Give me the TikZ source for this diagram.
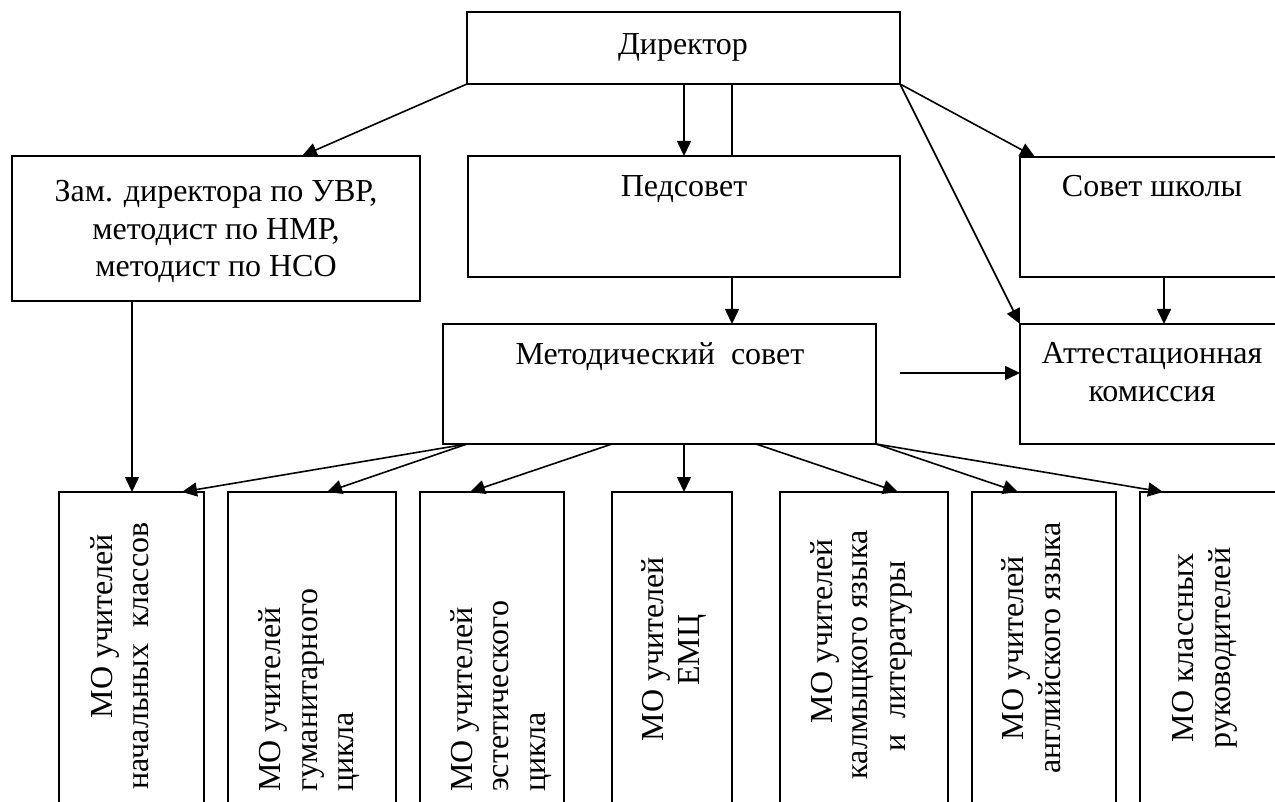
\documentclass[tikz,border=0pt]{standalone}
\usepackage{fontspec}
\setmainfont{Liberation Serif}
\usetikzlibrary{arrows.meta}
\begin{document}
\begin{tikzpicture}[x=1pt,y=-1pt,
  box/.style={draw, line width=1.6pt, inner sep=0pt, outer sep=0pt, anchor=north west},
  lbl/.style={inner sep=0pt, anchor=base, font=\fontsize{32}{37}\selectfont},
  rl/.style={lbl, rotate=90},
  rlw/.style={lbl, rotate=90, anchor=base west},
  conn/.style={line width=1.6pt},
  arr/.style={conn, -{Triangle[length=15pt,width=14pt]}}]
\useasboundingbox (0,0) rectangle (1275,802);
\clip (0,0) rectangle (1275,802);
% boxes
\node[box, minimum width=433pt, minimum height=72pt] (dir) at (467,12) {};
\node[box, minimum width=432pt, minimum height=121pt] (ped) at (468,156) {};
\node[box, minimum width=408pt, minimum height=145pt] (zam) at (12,156) {};
\node[box, minimum width=270pt, minimum height=120pt] (sov) at (1020,157) {};
\node[box, minimum width=270pt, minimum height=120pt] (att) at (1020,324) {};
\node[box, minimum width=433pt, minimum height=120pt] (met) at (443,324) {};
\node[box, minimum width=145pt, minimum height=330pt] (mo1) at (59,492) {};
\node[box, minimum width=168pt, minimum height=330pt] (mo2) at (228,492) {};
\node[box, minimum width=144pt, minimum height=330pt] (mo3) at (420,492) {};
\node[box, minimum width=120pt, minimum height=330pt] (mo4) at (612,492) {};
\node[box, minimum width=168pt, minimum height=330pt] (mo5) at (780,492) {};
\node[box, minimum width=144pt, minimum height=330pt] (mo6) at (972,492) {};
\node[box, minimum width=150pt, minimum height=330pt] (mo7) at (1140,492) {};
% texts
\node[lbl] (dirT) at (683,55) {Директор};
\node[lbl] (pedT) at (684,197) {Педсовет};
\node[lbl] (zamA) at (216,202) {Зам. директора по УВР,};
\node[lbl] (zamB) at (216,240) {методист по НМР,};
\node[lbl] (zamC) at (216,277) {методист по НСО};
\node[lbl] (metT) at (660,365) {Методический\ \ совет};
\node[lbl] (sovT) at (1152,197) {Совет школы};
\node[lbl] (attA) at (1152,363) {Аттестационная};
\node[lbl] (attB) at (1152,402) {комиссия};
\node[rl] (m1a) at (112,626) {МО учителей};
\node[rl] (m1b) at (148,656) {начальных\ \ классов};
\node[rlw] (m2a) at (280,792) {МО учителей};
\node[rlw] (m2b) at (317,792) {гуманитарного};
\node[rlw] (m2c) at (353,792) {цикла};
\node[rlw] (m3a) at (472,792) {МО учителей};
\node[rlw] (m3b) at (508,792) {эстетического};
\node[rlw] (m3c) at (545,792) {цикла};
\node[rl] (m4a) at (663,649) {МО учителей};
\node[rl] (m4b) at (699,650) {ЕМЦ};
\node[rl] (m5a) at (832,631) {МО учителей};
\node[rl] (m5b) at (867,655) {калмыцкого языка};
\node[rl] (m5c) at (905,656) {и\ \ литературы};
\node[rl] (m6a) at (1023,648) {МО учителей};
\node[rl] (m6b) at (1060,648) {английского языка};
\node[rl] (m7a) at (1193,648) {МО классных};
\node[rl] (m7b) at (1230,648) {руководителей};
% connectors
\draw[arr] (dir.south west) -- ([xshift=290pt]zam.north west);
\draw[arr] ([xshift=217pt]dir.south west) -- ([xshift=216pt]ped.north west);
\draw[conn] ([xshift=265pt]dir.south west) -- ([xshift=264pt]ped.north west);
\draw[arr] (dir.south east) -- ([xshift=15pt]sov.north west);
\draw[arr] (dir.south east) -- (att.north west);
\draw[arr] ([xshift=144pt]sov.south west) -- ([xshift=144pt]att.north west);
\coordinate (mfree) at (900,373);
\draw[arr] (mfree) -- (mfree -| att.west);
\draw[arr] ([xshift=264pt]ped.south west) -- ([xshift=289pt]met.north west);
\draw[arr] ([xshift=120pt]zam.south west) -- ([xshift=73pt]mo1.north west);
\draw[arr] ([xshift=24pt]met.south west) -- ([xshift=123pt]mo1.north west);
\draw[arr] ([xshift=24pt]met.south west) -- ([xshift=99pt]mo2.north west);
\draw[arr] ([xshift=169pt]met.south west) -- ([xshift=50pt]mo3.north west);
\draw[arr] ([xshift=241pt]met.south west) -- ([xshift=72pt]mo4.north west);
\draw[arr] ([xshift=313pt]met.south west) -- ([xshift=118pt]mo5.north west);
\draw[arr] (met.south east) -- ([xshift=46pt]mo6.north west);
\draw[arr] (met.south east) -- ([xshift=23pt]mo7.north west);
\end{tikzpicture}
\end{document}
